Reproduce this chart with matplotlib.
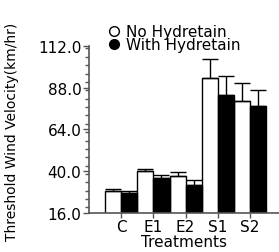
import numpy as np
import matplotlib
matplotlib.use('Agg')
import matplotlib.pyplot as plt
from matplotlib.ticker import MultipleLocator
from matplotlib.lines import Line2D

# data
treatments = ['C', 'E1', 'E2', 'S1', 'S2']
no_hydretain = [28.5, 40.0, 37.5, 93.5, 80.0]
no_hydretain_err = [1.5, 1.5, 2.0, 11.0, 10.5]
with_hydretain = [27.5, 35.8, 32.3, 83.5, 77.5]
with_hydretain_err = [1.3, 2.0, 2.5, 11.0, 9.0]

plt.rcParams['font.family'] = ['DejaVu Sans']
plt.rcParams['font.size'] = 11

fig = plt.figure(figsize=(2.79, 2.53), dpi=100)
ax = fig.add_axes([89/279, 39/253, 190/279, 167.3/253])

x = np.arange(len(treatments))
w = 0.5
ax.bar(x - w/2, no_hydretain, w, color='white', edgecolor='black', linewidth=1.0, zorder=2)
ax.bar(x + w/2, with_hydretain, w, color='black', edgecolor='black', linewidth=1.0, zorder=2)
ax.errorbar(x - w/2, no_hydretain, yerr=[np.zeros(5), no_hydretain_err], fmt='none',
            ecolor='black', elinewidth=1.0, capsize=5.5, capthick=1.0, zorder=3)
ax.errorbar(x + w/2, with_hydretain, yerr=[np.zeros(5), with_hydretain_err], fmt='none',
            ecolor='black', elinewidth=1.0, capsize=5.5, capthick=1.0, zorder=3)

ax.set_xlim(-1, 4.9)
ax.set_ylim(16, 112)
ax.set_yticks([16, 40, 64, 88, 112])
ax.set_yticklabels(['16.0', '40.0', '64.0', '88.0', '112.0'])
ax.yaxis.set_minor_locator(MultipleLocator(4.8))
ax.set_xticks(x)
ax.set_xticklabels(treatments)

for s in ['top', 'right']:
    ax.spines[s].set_visible(False)
for s in ['left', 'bottom']:
    ax.spines[s].set_color('#555555')
    ax.spines[s].set_linewidth(1.2)
ax.tick_params(axis='y', which='major', length=4, width=1, color='#555555', pad=1.5)
ax.tick_params(axis='y', which='minor', length=3, width=1, color='#555555')
ax.tick_params(axis='x', length=3.5, width=1, color='#555555', pad=0.5)

ax.set_xlabel('Treatments', labelpad=0)
fig.text(12/279, 0.5 - 5/253, 'Threshold Wind Velocity(km/hr)', fontsize=10,
         rotation=90, ha='center', va='center')

handles = [Line2D([], [], linestyle='none', marker='o', markersize=7, markerfacecolor='white',
                  markeredgecolor='black', markeredgewidth=1.0),
           Line2D([], [], linestyle='none', marker='o', markersize=7, markerfacecolor='black',
                  markeredgecolor='black')]
fig.legend(handles, ['No Hydretain', 'With Hydretain'], loc='upper left',
           bbox_to_anchor=(106/279, 1 - 25/253), frameon=False, handlelength=1.0,
           handletextpad=0.3, labelspacing=-0.1, borderpad=0, borderaxespad=0)

fig.savefig('out.png', dpi=100)
